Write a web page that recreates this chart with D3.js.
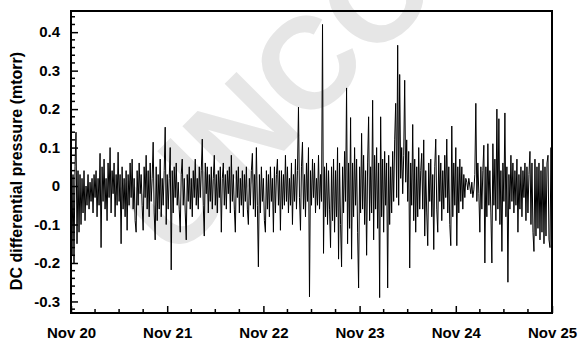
<!DOCTYPE html>
<html>
<head>
<meta charset="utf-8">
<script src="https://cdn.jsdelivr.net/npm/d3@7"></script>
<style>
  body { margin: 0; background: #fff; }
  text { font-family: "Liberation Sans", Arial, sans-serif; font-weight: bold; }
</style>
</head>
<body>
<div id="chart"></div>
<script>
// readings every 15 minutes starting Nov 20 00:00
const startDate = new Date(2005, 10, 20);
const stepMinutes = 15;
const pressure = [
  -0.05, -0.18, 0.03, -0.2, 0.05, 0.14, -0.15, 0.04, -0.12, 0.03,
  -0.1, 0.02, -0.07, 0.04, -0.09, 0.0, -0.05, 0.03, -0.06, 0.01,
  -0.04, 0.02, -0.07, 0.03, -0.03, 0.04, -0.08, 0.02, -0.05, 0.085,
  -0.16, 0.05, -0.04, 0.07, -0.06, 0.02, -0.09, 0.06, -0.03, 0.1,
  -0.07, 0.04, -0.02, 0.06, -0.08, 0.03, -0.05, 0.088, -0.04, 0.03,
  -0.15, 0.05, -0.06, 0.02, -0.08, 0.04, -0.115, 0.03, -0.05, 0.06,
  -0.03, 0.07, -0.06, 0.02, -0.09, -0.12, 0.04, -0.05, 0.06, -0.02,
  0.03, -0.05, -0.115, 0.05, -0.03, 0.08, -0.06, 0.04, -0.08, 0.06,
  -0.04, 0.02, 0.114, -0.07, -0.14, 0.05, -0.09, 0.03, -0.06, 0.07,
  -0.08, 0.02, -0.05, 0.04, 0.153, -0.1, 0.03, -0.06, 0.02, 0.1,
  -0.218, 0.04, -0.07, 0.05, -0.03, 0.06, -0.05, 0.01, -0.06, -0.12,
  0.03, 0.07, -0.05, 0.02, -0.07, -0.14, 0.03, -0.04, 0.05, -0.06,
  0.02, -0.08, 0.04, -0.03, 0.07, -0.05, 0.02, -0.06, 0.05, -0.03,
  0.04, 0.122, -0.05, -0.13, 0.06, -0.02, 0.05, -0.07, 0.03, -0.04,
  0.05, -0.06, 0.02, 0.08, -0.05, 0.03, -0.07, 0.04, -0.03, 0.05,
  -0.12, 0.02, 0.06, -0.05, 0.03, -0.06, 0.04, -0.02, 0.05, -0.07,
  0.08, -0.04, 0.03, -0.06, -0.12, 0.04, -0.03, 0.05, -0.07, 0.02,
  -0.05, 0.04, -0.08, 0.03, -0.04, 0.05, -0.06, -0.1, 0.02, -0.05,
  0.04, 0.085, -0.06, 0.03, -0.08, 0.1, -0.05, -0.21, 0.03, -0.07,
  0.05, -0.04, 0.02, -0.09, -0.12, 0.04, -0.06, 0.03, -0.08, 0.05,
  -0.04, 0.02, -0.12, 0.05, -0.07, 0.03, 0.07, -0.05, 0.04, -0.115,
  0.04, -0.06, 0.03, -0.05, 0.08, -0.04, 0.05, -0.07, 0.02, -0.05,
  0.06, -0.1, 0.03, -0.04, 0.07, -0.06, 0.04, 0.205, -0.03, -0.115,
  0.05, 0.114, -0.06, 0.03, -0.08, 0.06, -0.04, 0.1, -0.288, 0.04,
  -0.05, 0.07, -0.03, 0.06, -0.07, 0.02, -0.05, 0.08, -0.06, 0.03,
  -0.04, 0.42, -0.175, 0.05, -0.08, 0.06, -0.1, 0.04, -0.06, -0.16,
  0.05, -0.09, 0.07, -0.12, 0.04, -0.08, 0.1, -0.19, 0.06, -0.1,
  -0.21, 0.05, -0.07, 0.09, -0.04, 0.255, -0.15, 0.06, -0.11, 0.178,
  -0.19, 0.06, -0.08, 0.1, -0.05, 0.07, -0.12, -0.265, 0.05, -0.07,
  0.137, -0.06, 0.08, -0.1, 0.04, -0.18, 0.06, 0.18, -0.09, 0.05,
  -0.07, 0.223, -0.14, 0.08, -0.06, 0.1, -0.11, 0.06, -0.29, 0.18,
  -0.08, 0.07, -0.12, 0.09, -0.05, 0.06, -0.265, 0.08, -0.1, 0.05,
  -0.07, 0.09, -0.04, 0.12, 0.215, -0.03, 0.366, -0.05, 0.29, 0.02,
  0.1, -0.02, 0.08, 0.275, 0.01, 0.12, -0.04, 0.09, -0.213, 0.06,
  -0.05, 0.16, -0.09, 0.07, -0.12, 0.05, -0.08, 0.1, -0.06, 0.04,
  0.085, -0.06, 0.12, -0.13, 0.04, -0.07, -0.155, 0.06, -0.04, 0.07,
  -0.08, 0.03, -0.165, 0.05, 0.122, -0.06, -0.12, 0.08, -0.04, 0.06,
  -0.09, 0.04, -0.06, 0.08, -0.03, 0.122, -0.07, 0.05, -0.1, -0.155,
  0.156, -0.08, 0.06, -0.05, 0.1, -0.155, 0.05, -0.07, 0.07, -0.04,
  0.05, -0.06, 0.03, -0.03, 0.02, 0.01, -0.01, 0.02, 0.0, -0.02,
  0.01, -0.03, -0.01, 0.03, 0.215, -0.04, 0.06, -0.02, -0.12, 0.05,
  -0.06, 0.04, 0.106, -0.2, 0.05, -0.08, 0.11, -0.05, 0.04, -0.07,
  -0.2, 0.11, -0.05, 0.07, -0.09, 0.2, -0.06, 0.175, -0.1, 0.04,
  -0.17, 0.06, -0.04, 0.19, -0.08, 0.05, -0.25, 0.03, -0.06, 0.08,
  -0.04, 0.06, -0.07, 0.04, -0.05, 0.07, -0.12, 0.03, -0.06, 0.05,
  -0.08, 0.04, -0.03, 0.06, -0.09, 0.05, -0.07, 0.03, 0.09, -0.1,
  0.06, -0.12, -0.17, 0.07, -0.13, 0.05, -0.11, 0.06, -0.14, 0.04,
  -0.12, 0.07, -0.15, 0.05, -0.13, 0.06, 0.08, -0.14, -0.16, 0.1,
  -0.12
];
const yTicks = [-0.3, -0.2, -0.1, 0, 0.1, 0.2, 0.3, 0.4];
const xTickDays = [20, 21, 22, 23, 24, 25];
const yLabel = 'DC differential pressure (mtorr)';
const watermark = 'UNCORRECTED PROOF';

const width = 580, height = 340;
const margin = { top: 11, right: 28, bottom: 27, left: 71 };

const data = pressure.map((v, i) => ({
    t: new Date(startDate.getTime() + i * stepMinutes * 60000),
    v: v
}));

const svg = d3.select('#chart').append('svg')
    .attr('width', width)
    .attr('height', height);

// faint watermark behind everything
svg.append('text')
    .attr('transform', 'translate(173,262) rotate(-45)')
    .attr('font-size', 130)
    .attr('fill', '#e6e6e6')
    .text(watermark);

const x = d3.scaleTime()
    .domain([new Date(2005, 10, 20), new Date(2005, 10, 25)])
    .range([margin.left, width - margin.right]);

const y = d3.scaleLinear()
    .domain([-0.33, 0.455])
    .range([height - margin.bottom, margin.top]);

svg.append('defs').append('clipPath')
    .attr('id', 'plot-clip')
    .append('rect')
    .attr('x', margin.left)
    .attr('y', margin.top)
    .attr('width', width - margin.left - margin.right)
    .attr('height', height - margin.top - margin.bottom);

// data trace
const line = d3.line()
    .x(d => x(d.t))
    .y(d => y(d.v));

svg.append('path')
    .datum(data)
    .attr('clip-path', 'url(#plot-clip)')
    .attr('fill', 'none')
    .attr('stroke', '#000')
    .attr('stroke-width', 1)
    .attr('d', line);

// minor ticks
const yMinor = d3.range(-32, 46, 2).map(d => d / 100).filter(d => Math.abs(d * 10 - Math.round(d * 10)) > 1e-6);
svg.append('g')
    .selectAll('line')
    .data(yMinor)
    .join('line')
    .attr('x1', margin.left)
    .attr('x2', margin.left + 4)
    .attr('y1', d => y(d))
    .attr('y2', d => y(d))
    .attr('stroke', '#000')
    .attr('stroke-width', 1.5);

const xMinor = d3.timeHour.every(6).range(x.domain()[0], x.domain()[1])
    .filter(d => d.getHours() !== 0);
svg.append('g')
    .selectAll('line')
    .data(xMinor)
    .join('line')
    .attr('x1', d => x(d))
    .attr('x2', d => x(d))
    .attr('y1', height - margin.bottom)
    .attr('y2', height - margin.bottom - 4)
    .attr('stroke', '#000')
    .attr('stroke-width', 1.5);

// axes
const fmtY = d => d === 0 ? '0' : d3.format('.1f')(d).replace('\u2212', '-');

const yAxis = svg.append('g')
    .attr('transform', `translate(${margin.left},0)`)
    .call(d3.axisLeft(y).tickValues(yTicks).tickFormat(fmtY).tickSizeInner(-7).tickSizeOuter(0).tickPadding(11));

const xAxis = svg.append('g')
    .attr('transform', `translate(0,${height - margin.bottom})`)
    .call(d3.axisBottom(x)
        .tickValues(xTickDays.map(d => new Date(2005, 10, d)))
        .tickFormat(d3.timeFormat('%b %d'))
        .tickSizeInner(-7).tickSizeOuter(0).tickPadding(14));

[yAxis, xAxis].forEach(a => {
    a.select('.domain').remove();
    a.selectAll('.tick line').attr('stroke', '#000').attr('stroke-width', 1.5);
    a.selectAll('.tick text')
        .attr('fill', '#000')
        .style('font-family', '"Liberation Sans", Arial, sans-serif')
        .style('font-weight', 'bold')
        .style('font-size', '15px');
});

// frame
svg.append('rect')
    .attr('x', margin.left)
    .attr('y', margin.top)
    .attr('width', width - margin.left - margin.right)
    .attr('height', height - margin.top - margin.bottom)
    .attr('fill', 'none')
    .attr('stroke', '#000')
    .attr('stroke-width', 2);

// y axis title
svg.append('text')
    .attr('transform', `translate(22,${(margin.top + height - margin.bottom) / 2 + 9}) rotate(-90)`)
    .attr('text-anchor', 'middle')
    .attr('font-size', 16)
    .attr('fill', '#000')
    .text(yLabel);
</script>
</body>
</html>
